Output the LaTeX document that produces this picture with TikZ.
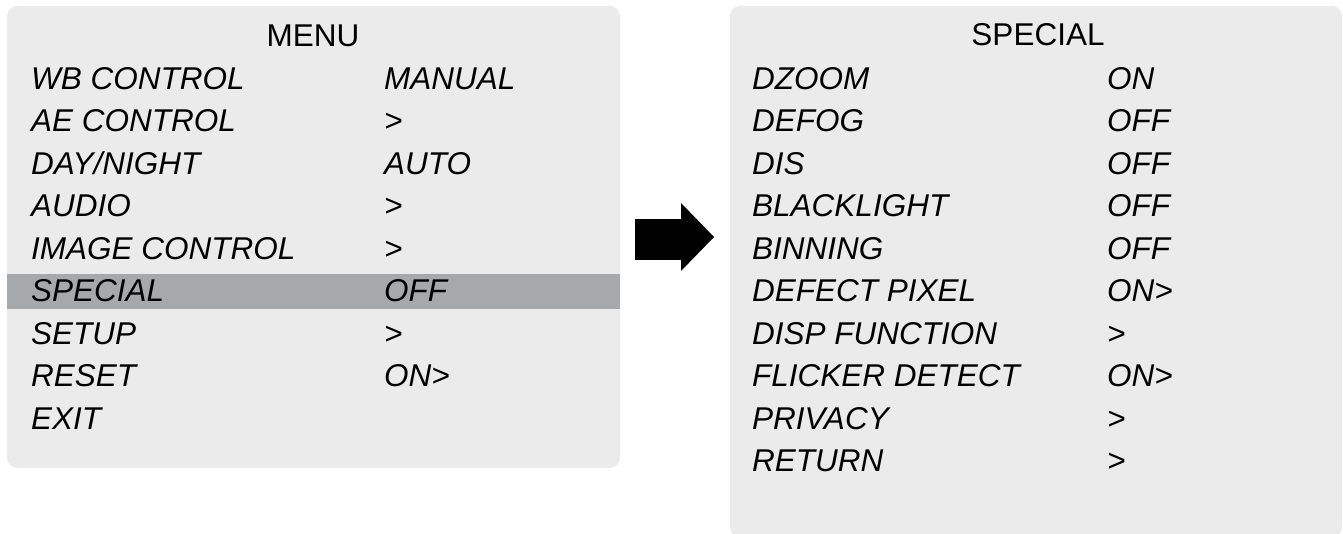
\documentclass[tikz,border=0pt]{standalone}
\usepackage{fontspec}
\setmainfont{Liberation Sans}
\definecolor{panelgray}{HTML}{EBEBEB}
\definecolor{hlgray}{HTML}{A7A8AA}
\begin{document}
\begin{tikzpicture}[x=1pt,y=-1pt,
  panel/.style={fill=panelgray,draw=none,rounded corners=10pt},
  title/.style={anchor=base,inner sep=0pt,font=\fontsize{31.5}{36}\selectfont},
  item/.style={anchor=base west,inner sep=0pt,font=\fontsize{31.5}{36}\selectfont\itshape}]
\useasboundingbox (0,0) rectangle (1343,534);
% panels
\fill[panel] (7,6) rectangle (620,468);
\fill[panel] (730,6) rectangle (1342,537);
\fill[hlgray] (7,274) rectangle (620,309);
% arrow
\fill[black] (635,219) rectangle (682,260);
\fill[black] (681,203) -- (714,237) -- (681,271) -- cycle;
% left menu
\node[title] (menu) at (313,46.5) {MENU};
\foreach \n/\l/\v [count=\i from 0] in {wb/WB CONTROL/MANUAL, ae/AE CONTROL/>, dn/DAY\slash NIGHT/AUTO, au/AUDIO/>, ic/IMAGE CONTROL/>, sp/SPECIAL/OFF, su/SETUP/>, rs/RESET/ON>, ex/EXIT/}{
  \node[item] (L\n) at (31,89.3+42.5*\i) {\l};
  \node[item] (V\n) at (384,89.3+42.5*\i) {\v};
}
% right menu
\node[title] (special) at (1038,46) {SPECIAL};
\foreach \n/\l/\v [count=\i from 0] in {dz/DZOOM/ON, df/DEFOG/OFF, ds/DIS/OFF, bl/BLACKLIGHT/OFF, bn/BINNING/OFF, dp/DEFECT PIXEL/ON>, dfn/DISP FUNCTION/>, fd/FLICKER DETECT/ON>, pr/PRIVACY/>, rt/RETURN/>}{
  \node[item] (R\n) at (752,89.3+42.5*\i) {\l};
  \node[item] (W\n) at (1107,89.3+42.5*\i) {\v};
}
\end{tikzpicture}
\end{document}
